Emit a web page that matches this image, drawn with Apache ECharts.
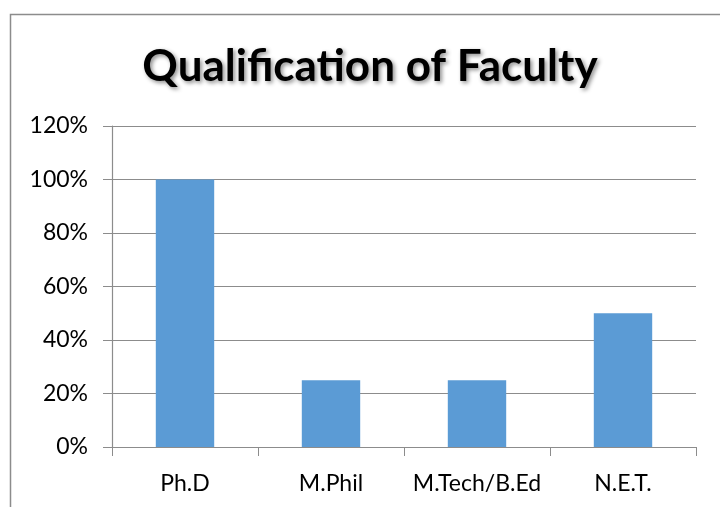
<!DOCTYPE html>
<html>
<head>
<meta charset="utf-8">
<script src="https://cdn.jsdelivr.net/npm/echarts@6/dist/echarts.min.js"></script>
<style>
  html, body { margin: 0; padding: 0; background: #fff; }
  #chart { width: 720px; height: 507px; }
</style>
</head>
<body>
<div id="chart"></div>
<script>
// Share of faculty holding each qualification
const categories = ['Ph.D', 'M.Phil', 'M.Tech/B.Ed', 'N.E.T.'];
const shares = [100, 25, 25, 50];
const yTicks = [0, 20, 40, 60, 80, 100, 120];

const chart = echarts.init(document.getElementById('chart'));
const font = 'Lato, "Open Sans", sans-serif';

chart.setOption({
  animation: false,
  backgroundColor: '#ffffff',
  title: {
    text: 'Qualification of Faculty',
    left: 365,
    textAlign: 'center',
    top: 40,
    textStyle: {
      fontFamily: font,
      fontWeight: 'bold',
      fontSize: 44,
      color: '#000',
      textShadowColor: 'rgba(0,0,0,0.45)',
      textShadowBlur: 4,
      textShadowOffsetX: 2,
      textShadowOffsetY: 2
    }
  },
  graphic: [{
    type: 'rect',
    shape: { x: 10.5, y: 14.5, width: 760, height: 560 },
    style: { fill: 'none', stroke: '#8c8c8c', lineWidth: 1.5 },
    silent: true
  }],
  grid: { left: 112, right: 24, top: 126, bottom: 60 },
  xAxis: {
    type: 'category',
    data: categories,
    axisLine: { lineStyle: { color: '#8c8c8c', width: 1.2 } },
    axisTick: { show: true, length: 9, lineStyle: { color: '#8c8c8c' } },
    axisLabel: { interval: 0, fontFamily: font, fontSize: 23, color: '#000', margin: 25 }
  },
  yAxis: {
    type: 'value',
    min: 0,
    max: 120,
    interval: 20,
    axisLine: { show: true, lineStyle: { color: '#8c8c8c', width: 1.2 } },
    axisTick: { show: true, length: 9, lineStyle: { color: '#8c8c8c' } },
    axisLabel: {
      fontFamily: font, fontSize: 23, color: '#000', margin: 24,
      formatter: v => yTicks.includes(v) ? v + '%' : ''
    },
    splitLine: { lineStyle: { color: '#8c8c8c', width: 1.2 } }
  },
  series: [{
    type: 'bar',
    data: shares,
    barWidth: '40%',
    itemStyle: { color: '#5b9bd5' }
  }]
});
</script>
</body>
</html>
